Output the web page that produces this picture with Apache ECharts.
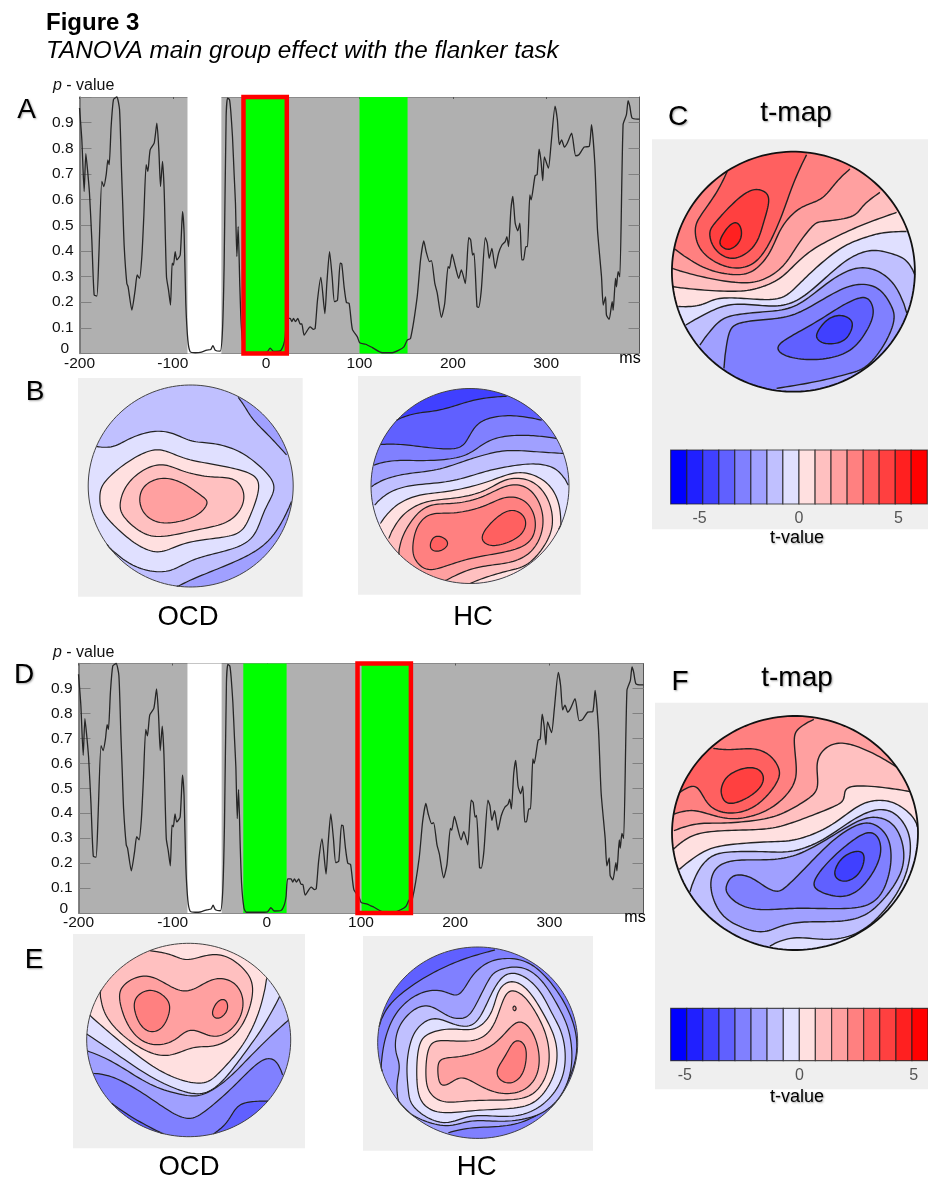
<!DOCTYPE html>
<html><head><meta charset="utf-8">
<style>html,body{margin:0;padding:0;background:#fff}#c{width:928px;height:1178px}</style>
<script src="https://cdn.jsdelivr.net/npm/echarts@6/dist/echarts.min.js"></script>
</head><body><div id="c"></div>
<script>
// ---- TANOVA p-value curve (panel D shows the same curve)
const tMs = [-200,-197.5,-195,-193.2,-191.4,-189.3,-186.8,-184.3,-181.4,-179.3,-176.1,-173.9,-171.4,-169.6,-168.2,-166.1,-163.6,-160,-157.1,-155,-153.6,-152.1,-149.3,-147.9,-143.9,-140.4,-138.2,-135.7,-133.2,-131.1,-128.6,-126.8,-124.3,-120,-117.1,-115,-113.2,-111.1,-109.3,-106.8,-104.6,-102.5,-100.7,-99.3,-97.5,-95.7,-92.1,-89.6,-87.9,-86.1,-83.9,-81.4,-76,-70.7,-63.6,-59.3,-57.1,-54.6,-49.3,-46.8,-45,-42.9,-41.4,-39.3,-37.9,-36.1,-34.3,-32.9,-31.4,-30,-28.3,-26.8,-24.3,-21.8,-10,0.7,4.3,7.9,15,18.6,20.4,22.1,25.7,27.5,29.3,31.4,33.9,36.4,38.2,40.7,47.1,50.7,52.5,55,58.6,62.9,65,67.9,70.7,73.2,76.4,79.3,81,83.5,86,88.9,92.4,97.7,100.2,106.6,113.8,124.4,135.1,142.2,147.6,151.1,154.7,161.8,165.4,168.9,171.4,175,177.1,180.7,183.2,187.8,191.3,194.9,196.3,199.2,202.7,206.3,209.1,213.4,217,219.1,221.2,222.7,225.9,227.6,230.5,234.8,236.9,239,241.9,245.4,249,252.6,256.1,257.9,259.7,262.2,264.3,266.8,269.6,271.8,273.9,275.7,278.2,280,282.5,283.9,288.1,290.3,292.4,294.5,296.3,298.1,302.4,305.2,309.5,312,314.1,316.6,319.5,322.3,327.3,331.6,335.1,340.8,346.1,348.6,352.2,355,359.3,361.1,363.6,364.6,367.5,370.7,371.8,374.3,375.3,377.1,378.9,382.4,386,387.8,389.6,392,397.8,400];
const pValue = [.957,.833,.632,.779,.716,.625,.443,.228,.224,.378,.671,.651,.697,.755,.736,.885,.99,1,.951,.716,.573,.417,.273,.26,.169,.247,.306,.293,.378,.534,.736,.71,.794,.82,.898,.794,.651,.749,.638,.299,.247,.189,.352,.345,.397,.365,.384,.553,.469,.195,.052,.007,.003,.004,.013,.016,.031,.013,.009,.091,.352,.924,.996,.99,.944,.846,.697,.586,.378,.495,.273,.117,.02,.003,.003,.005,.021,.008,.01,.033,.065,.137,.137,.124,.137,.124,.137,.115,.115,.072,.104,.094,.098,.208,.297,.156,.273,.397,.299,.202,.208,.352,.349,.26,.199,.195,.094,.065,.042,.036,.023,.003,.003,.013,.026,.052,.059,.221,.365,.439,.397,.358,.362,.273,.237,.141,.195,.339,.332,.387,.339,.293,.326,.273,.452,.443,.384,.391,.182,.18,.247,.452,.43,.371,.41,.332,.391,.423,.436,.456,.417,.56,.612,.508,.478,.508,.365,.365,.417,.417,.618,.599,.693,.697,.797,.749,.674,.766,.723,.814,.964,.911,.814,.833,.805,.818,.859,.771,.775,.805,.807,.892,.736,.482,.299,.189,.221,.15,.133,.202,.169,.293,.26,.319,.299,.892,.931,.986,.964,.918,.914,.914];

const xTicksMs = [-200,-100,0,100,200,300];
const whiteWindow = [-84.3,-48];
const greenWindowsA = [[-24.3,22.1],[100,151.5]];
const greenWindowsD = [[-25,21],[100.6,151.9]];
const redBoxA = [-24.3,22.1];
const redBoxD = [96.3,153];

// ---- colour scale of the t-maps: level -8..-1, 1..8
const levelColors = ['#0000ff','#2020ff','#4040ff','#6060ff','#8080ff','#a0a0ff','#c0c0ff','#e0e0ff','#ffe0e0','#ffc0c0','#ffa0a0','#ff8080','#ff6060','#ff4040','#ff2020','#ff0000'];
const barEdgesC = [-6.45,-5.64,-4.84,-4.03,-3.23,-2.42,-1.61,-.81,0,.81,1.61,2.42,3.23,4.03,4.84,5.64,6.45];
const barEdgesF = [-5.62,-4.92,-4.22,-3.51,-2.81,-2.11,-1.41,-.7,0,.7,1.41,2.11,2.81,3.51,4.22,4.92,5.62];
const barTicks = [-5,0,5];

// ---- contour lines of each scalp map, in scalp units of that map's hidden axes.
// open: [level, line] – line ends on the scalp rim, the band lies on the right of the walking direction
// closed: [level, loop]
const mapCRange = [66,795,186,905], mapCBase = 4;
const mapCOpen = [
 [5,[470,195,430,280,395,380,340,495,280,535,210,525,150,480,135,420,150,380,200,310,232,245]],
 [3,[75,478,160,535,250,555,310,545,360,490,390,420,430,370,470,345,520,325,560,275,600,238]],
 [2,[65,535,150,560,270,580,340,570,400,530,440,470,490,405,520,395,610,382,640,345,690,308]],
 [1,[65,590,150,600,270,605,340,590,400,560,470,490,560,440,650,400,740,368]],
 [-1,[85,650,150,648,200,625,280,625,380,630,430,600,480,550,570,475,640,445,700,428,770,425]],
 [-2,[108,705,170,670,250,640,360,650,440,635,520,570,590,510,660,480,720,490,770,510,795,555]],
 [-3,[150,765,200,700,250,675,350,665,440,650,530,580,610,535,680,540,740,590,771,670]],
 [-4,[222,835,235,730,265,700,330,690,420,680,500,640,600,585,680,590,720,640,735,690,700,770,650,830,600,850,500,875,380,895]]
];
const mapCClosed = [
 [6,[240,350,300,300,345,305,358,335,340,400,315,470,250,510,195,480,178,430,195,400]],
 [7,[210,450,235,410,260,397,275,420,270,455,240,480,215,470]],
 [-5,[380,770,430,735,510,690,580,645,640,620,665,640,670,680,640,740,590,790,500,810,410,800]],
 [-6,[500,730,530,690,570,675,605,690,605,720,580,755,530,762,505,750]]
];

const mapFRange = [66,805,168,870], mapFBase = 4;
const mapFOpen = [
 [3,[72,462,120,450,170,460,240,478,320,465,385,430,432,375,440,320,432,240,445,205,492,178]],
 [5,[190,265,240,270,310,265,360,285,390,330,380,370,340,420,290,452,230,460,180,440,155,400,130,375,85,400]],
 [2,[72,512,140,490,220,490,330,480,400,460,470,420,505,385,500,320,515,275,560,248,620,258,690,290,742,322]],
 [1,[68,570,110,535,170,515,280,510,370,505,450,480,540,445,585,420,590,378,700,382,782,395]],
 [-1,[88,628,150,580,220,555,360,545,440,540,540,500,620,440,680,420,740,430,790,470,803,500]],
 [-2,[120,695,140,640,180,590,240,575,350,575,430,575,520,540,600,485,670,450,730,455,775,510,782,590,745,700,640,815,530,840,430,830,360,858]]
];
const mapFClosed = [
 [6,[215,380,235,345,290,322,330,330,342,360,320,395,270,425,230,430,215,405]],
 [-3,[180,680,200,620,260,600,340,600,430,590,520,545,610,490,670,470,730,490,762,560,755,640,700,720,640,770,560,785,470,785,400,795,340,818,270,800,210,760]],
 [-4,[228,680,250,645,300,650,345,680,380,695,410,680,470,620,550,540,620,495,670,490,715,530,725,600,710,670,680,720,620,745,500,745,420,745,330,750,270,735,235,705]],
 [-5,[490,665,540,600,610,540,660,515,690,540,690,600,640,680,580,712,510,695]],
 [-6,[555,630,580,590,625,572,645,590,630,640,590,665,560,655]]
];

const mapBOcdRange = [55,670,45,652], mapBOcdBase = -2;
const mapBOcdOpen = [
 [-3,[650,255,600,200,550,150,525,110,505,82]],
 [-3,[320,652,375,625,450,595,540,555,600,510,640,450,665,395]],
 [-1,[80,230,130,232,180,205,250,183,310,190,365,215,430,220,500,240,560,280,615,340,600,390,580,430,555,495,510,530,440,550,375,568,330,590,285,607,220,600,160,570,110,525]]
];
const mapBOcdClosed = [
 [1,[90,380,100,340,160,285,230,245,280,240,340,265,410,280,490,295,560,320,565,370,540,440,510,490,440,505,340,520,270,550,200,525,130,465,95,420]],
 [2,[150,400,170,345,220,300,280,282,340,305,420,322,490,325,522,365,515,415,470,460,380,480,270,503,210,485,160,440]],
 [3,[208,390,225,345,280,323,340,340,390,375,415,398,385,435,330,455,270,460,225,435]]
];

const mapBHcRange = [62,657,55,640], mapBHcBase = -6;
const mapBHcOpen = [
 [-5,[138,150,190,130,260,122,320,105,390,85,470,78]],
 [-4,[90,223,150,222,230,232,310,237,345,220,370,175,410,145,490,135,575,150]],
 [-3,[70,285,130,270,230,272,330,262,380,235,430,205,500,195,570,198,620,205]],
 [-2,[63,350,100,328,170,310,260,300,350,270,400,255,470,240,560,245,640,250]],
 [-1,[73,405,110,370,180,345,300,335,400,305,470,290,550,280,620,295,655,345]],
 [1,[90,460,130,410,200,375,290,365,400,340,480,310,540,310,600,345,630,410,632,480]],
 [2,[115,505,150,440,220,395,310,385,400,365,470,325,540,330,585,370,607,430,600,500,540,580,480,600,410,620,360,640]],
 [3,[145,555,155,500,200,430,250,402,320,400,400,380,470,345,530,350,570,400,580,470,550,540,490,575,420,585,350,600,285,632]]
];
const mapBHcClosed = [
 [4,[187,530,200,470,240,430,310,430,400,410,470,378,530,395,557,450,545,510,490,540,410,555,340,570,280,590,230,600,195,570]],
 [5,[395,495,430,450,480,418,520,435,527,470,500,505,440,527,405,520]],
 [5,[240,520,255,497,285,505,293,525,270,543,245,540]]
];

const mapEOcdRange = [50,662,40,620], mapEOcdBase = 1;
const mapEOcdOpen = [
 [2,[240,62,300,72,350,92,410,75,470,78,530,125,550,180,530,260,490,320,430,350,370,350,300,378,230,365,150,310,100,245,90,180]],
 [-1,[58,255,130,318,240,405,330,450,405,460,450,425,520,345,570,240,590,145]],
 [-2,[50,312,130,365,240,440,340,485,410,490,470,440,530,360,580,290,630,198]],
 [-3,[50,362,130,395,240,465,340,495,400,495,470,450,530,390,600,320,658,268]],
 [-4,[70,430,130,440,220,490,300,545,360,568,410,540,480,480,550,410,590,385,620,395,638,435]],
 [-5,[430,612,470,580,500,530,540,515,595,513]],
 [-5,[125,520,190,565,280,612]]
];
const mapEOcdClosed = [
 [3,[147,210,160,165,210,138,260,145,320,180,370,180,430,145,490,155,520,205,510,265,470,310,420,320,360,295,310,335,240,345,180,300]],
 [4,[190,225,210,190,250,180,290,205,300,240,280,290,245,307,210,285]],
 [4,[428,240,445,212,468,210,473,240,450,265,430,260]]
];

const mapEHcRange = [68,668,51,625], mapEHcBase = -5;
const mapEHcOpen = [
 [-4,[72,290,100,225,180,160,260,115,340,82,420,60]],
 [-3,[78,425,85,345,120,250,190,190,260,180,310,200,345,145,385,105,440,85,520,95,590,160,640,240,665,320,660,400,620,490,560,548,470,587,350,592,280,608]]
];
const mapEHcClosed = [
 [-2,[130,515,125,460,135,405,120,360,130,290,180,235,230,228,280,260,330,265,360,230,400,150,430,120,500,110,560,150,610,230,645,310,650,420,610,510,540,560,440,575,350,570,280,590,200,570,150,540]],
 [-1,[160,480,155,410,165,340,190,290,240,262,300,285,360,285,400,210,440,140,490,130,550,175,590,250,625,320,630,420,590,500,520,550,440,560,350,555,280,580,220,565,170,525]],
 [1,[185,450,190,350,220,310,290,295,360,300,410,250,430,180,470,152,520,180,570,260,605,340,600,430,550,510,480,535,360,540,260,550,200,520]],
 [2,[212,440,220,350,260,330,350,335,410,300,440,220,465,180,510,200,555,270,580,340,580,420,540,490,470,510,360,510,270,518,225,490]],
 [3,[248,415,260,385,320,380,400,355,450,310,490,272,530,300,553,370,545,440,500,485,430,490,370,465,320,440,285,460,255,465]],
 [4,[425,420,450,380,475,335,500,335,515,365,505,430,470,460,435,450]],
 [3,[473,235,478,227,484,235,479,243]]
];

// ---- layout
const FONT = 'Liberation Sans';
const levelColor = l => levelColors[l < 0 ? 8 + l : 7 + l];
const grid = [], xAxis = [], yAxis = [], series = [];
function addGrid(g, xa, ya) {
  grid.push(g); const gi = grid.length - 1;
  xa.forEach(a => { a.gridIndex = gi; xAxis.push(a); });
  ya.forEach(a => { a.gridIndex = gi; yAxis.push(a); });
  return [xAxis.length - xa.length, yAxis.length - ya.length];
}

function pvaluePanel(box, greens, redBox) {
  const tickStyle = {color: '#808080', width: 1};
  const [xi, yi] = addGrid(
    {left: box.l, top: box.t, width: box.w, height: box.h, show: true, backgroundColor: '#b0b0b0', borderWidth: 0},
    [{type: 'value', min: -200, max: 400, interval: 100, position: 'bottom',
      axisLine: {show: true, onZero: false, lineStyle: {color: '#8a8a8a', width: 1}}, axisTick: {show: false}, splitLine: {show: false},
      axisLabel: {color: '#111', fontFamily: FONT, fontSize: 15.5, margin: 2, customValues: xTicksMs}},
     {type: 'value', min: -200, max: 400, interval: 100, position: 'top',
      axisLine: {show: true, onZero: false, lineStyle: {color: '#8a8a8a', width: 1}}, axisTick: {show: true, inside: true, length: 2, lineStyle: {color: '#555'}},
      axisLabel: {show: false}, splitLine: {show: false}}],
    [{type: 'value', min: 0, max: 1, interval: .1, position: 'left',
      axisLine: {show: true, onZero: false, lineStyle: {color: '#666', width: 1.5}},
      axisTick: {show: true, inside: true, length: 12, lineStyle: tickStyle}, splitLine: {show: false},
      axisLabel: {color: '#111', fontFamily: FONT, fontSize: 15.5, margin: 6, lineHeight: 9, verticalAlignMinLabel: 'bottom',
        formatter: v => v >= 1 ? '' : v === 0 ? '0 ' : v.toFixed(1)}},
     {type: 'value', min: 0, max: 1, interval: .1, position: 'right',
      axisLine: {show: true, onZero: false, lineStyle: {color: '#555', width: 1}},
      axisTick: {show: true, inside: true, length: 11, lineStyle: tickStyle}, axisLabel: {show: false}, splitLine: {show: false}}]
  );
  const windows = [whiteWindow.concat('#ffffff')].concat(greens.map(g => g.concat('#00ff00')));
  series.push({type: 'custom', xAxisIndex: xi, yAxisIndex: yi, z: 2, silent: true, clip: false, animation: false,
    data: windows.map(w => [w[0], w[1]]),
    renderItem: (p, api) => {
      const a = api.coord([api.value(0), 1]), b = api.coord([api.value(1), 0]);
      return {type: 'rect', shape: {x: a[0], y: a[1], width: b[0] - a[0], height: b[1] - a[1]}, style: {fill: windows[p.dataIndex][2]}};
    }});
  series.push({type: 'line', xAxisIndex: xi, yAxisIndex: yi, z: 3, silent: true, showSymbol: false, animation: false, clip: false, smooth: .2,
    data: tMs.map((t, i) => [t, pValue[i]]), lineStyle: {color: '#262626', width: 1.3}});
  series.push({type: 'custom', xAxisIndex: xi, yAxisIndex: yi, z: 4, silent: true, clip: false, animation: false,
    data: [redBox],
    renderItem: (p, api) => {
      const a = api.coord([api.value(0), 1]), b = api.coord([api.value(1), 0]);
      return {type: 'rect', shape: {x: a[0], y: a[1], width: b[0] - a[0], height: b[1] - a[1]},
        style: {fill: 'none', stroke: '#ff0000', lineWidth: 4.5}};
    }});
}

// smooth a contour line (Catmull-Rom, then a short running mean) and keep it on the scalp
function buildPolys(range, base, open, closed) {
  const cx = (range[0] + range[1]) / 2, rx = (range[1] - range[0]) / 2, cy = (range[2] + range[3]) / 2, ry = (range[3] - range[2]) / 2;
  const pairs = f => { const o = []; for (let i = 0; i < f.length; i += 2) o.push([f[i], f[i + 1]]); return o; };
  const clampRim = p => { const u = (p[0] - cx) / rx, v = (p[1] - cy) / ry, r = Math.hypot(u, v); return r > 1 ? [cx + u / r * rx, cy + v / r * ry] : p; };
  const ang = p => Math.atan2((p[1] - cy) / ry, (p[0] - cx) / rx);
  const spline = (P, loop) => {
    const n = P.length, out = [], at = i => loop ? P[(i + n) % n] : P[Math.max(0, Math.min(n - 1, i))];
    for (let i = 0; i < (loop ? n : n - 1); i++) {
      const a = at(i - 1), b = at(i), c = at(i + 1), d = at(i + 2);
      for (let k = 0; k < 10; k++) {
        const t = k / 10, t2 = t * t, t3 = t2 * t;
        out.push([0, 1].map(j => .5 * (2 * b[j] + (c[j] - a[j]) * t + (2 * a[j] - 5 * b[j] + 4 * c[j] - d[j]) * t2 + (3 * b[j] - a[j] - 3 * c[j] + d[j]) * t3)));
      }
    }
    if (!loop) out.push(P[n - 1]);
    const m = out.length, W = 5;
    const mean = out.map((q, i) => {
      if (!loop && (i < W || i >= m - W)) return q;
      let x = 0, y = 0;
      for (let k = -W; k <= W; k++) { const r = out[(i + k + m) % m]; x += r[0]; y += r[1]; }
      return [x / (2 * W + 1), y / (2 * W + 1)];
    });
    return mean.map(clampRim);
  };
  const arc = (a0, a1) => { while (a1 <= a0) a1 += Math.PI * 2; const o = [], s = Math.ceil((a1 - a0) / .04);
    for (let i = 0; i <= s; i++) { const a = a0 + (a1 - a0) * i / s; o.push([cx + Math.cos(a) * rx, cy + Math.sin(a) * ry]); } return o; };
  const rim = arc(0, Math.PI * 2);
  const polys = [{fill: levelColor(base), pts: rim}];
  open.forEach(([l, f]) => { const line = spline(pairs(f), false);
    polys.push({fill: levelColor(l), pts: line.concat(arc(ang(line[line.length - 1]), ang(line[0]))), edge: line}); });
  closed.forEach(([l, f]) => { const loop = spline(pairs(f), true); polys.push({fill: levelColor(l), pts: loop, edge: loop.concat([loop[0]])}); });
  polys.push({pts: rim, edge: rim, outline: true});
  return polys;
}

function scalpMap(box, range, base, open, closed, lw, rimColor, rimWidth) {
  const [xi, yi] = addGrid({left: box[0], top: box[1], width: box[2], height: box[3]},
    [{type: 'value', min: range[0], max: range[1], show: false, splitLine: {show: false}}],
    [{type: 'value', min: range[2], max: range[3], inverse: true, show: false, splitLine: {show: false}}]);
  const polys = buildPolys(range, base, open, closed);
  series.push({type: 'custom', xAxisIndex: xi, yAxisIndex: yi, z: 2, silent: true, clip: false, animation: false,
    data: polys.map((p, i) => [(range[0] + range[1]) / 2, (range[2] + range[3]) / 2, i]),
    renderItem: (p, api) => {
      const q = polys[p.dataIndex], children = [];
      if (q.fill) children.push({type: 'polygon', shape: {points: q.pts.map(d => api.coord(d))}, style: {fill: q.fill, stroke: null}});
      if (q.edge) children.push({type: 'polyline', shape: {points: q.edge.map(d => api.coord(d))},
        style: {fill: null, stroke: q.outline ? rimColor : '#222', lineWidth: q.outline ? rimWidth : lw}});
      return {type: 'group', children};
    }});
}

function colorBar(box, edges) {
  const lim = edges[edges.length - 1];
  const [xi, yi] = addGrid({left: box[0], top: box[1], width: box[2], height: box[3]},
    [{type: 'value', min: -lim, max: lim, axisLine: {show: false}, axisTick: {show: false}, splitLine: {show: false},
      axisLabel: {color: '#555', fontFamily: FONT, fontSize: 16, margin: 7, customValues: barTicks}}],
    [{type: 'value', min: 0, max: 1, show: false, splitLine: {show: false}}]);
  series.push({type: 'custom', xAxisIndex: xi, yAxisIndex: yi, z: 2, silent: true, clip: false, animation: false,
    data: levelColors.map((c, i) => [edges[i], edges[i + 1]]),
    renderItem: (p, api) => {
      const a = api.coord([api.value(0), 1]), b = api.coord([api.value(1), 0]);
      return {type: 'rect', shape: {x: a[0], y: a[1], width: b[0] - a[0], height: b[1] - a[1]},
        style: {fill: levelColors[p.dataIndex], stroke: 'rgba(30,30,30,.75)', lineWidth: 1.2}};
    }});
}

pvaluePanel({l: 79.5, t: 97, w: 560, h: 256.5}, greenWindowsA, redBoxA);
pvaluePanel({l: 78.5, t: 663.5, w: 565, h: 249.5}, greenWindowsD, redBoxD);

const bbox = (cx, cy, rx, ry) => [cx - rx, cy - ry, 2 * rx, 2 * ry];
scalpMap(bbox(793.4, 271.7, 121.5, 120), mapCRange, mapCBase, mapCOpen, mapCClosed, 1.4, '#111', 1.8);
scalpMap(bbox(795, 833, 123, 117), mapFRange, mapFBase, mapFOpen, mapFClosed, 1.4, '#111', 1.8);
scalpMap(bbox(190.7, 486, 102.5, 101), mapBOcdRange, mapBOcdBase, mapBOcdOpen, mapBOcdClosed, 1.2, '#444', 1);
scalpMap(bbox(470, 486, 99, 97.5), mapBHcRange, mapBHcBase, mapBHcOpen, mapBHcClosed, 1.2, '#444', 1);
scalpMap(bbox(188.7, 1040, 102, 96.7), mapEOcdRange, mapEOcdBase, mapEOcdOpen, mapEOcdClosed, 1.2, '#444', 1);
scalpMap(bbox(477.7, 1042.7, 100, 95.7), mapEHcRange, mapEHcBase, mapEHcOpen, mapEHcClosed, 1.2, '#444', 1);

colorBar([670.7, 450, 256.6, 54], barEdgesC);
colorBar([670.7, 1008.3, 260.6, 52.4], barEdgesF);

const panelBg = (x0, y0, x1, y1) => ({type: 'rect', z: 0, silent: true, shape: {x: x0, y: y0, width: x1 - x0, height: y1 - y0}, style: {fill: '#efefef'}});
const txt = (x, y, text, size, extra) => ({type: 'text', z: 100, silent: true, x, y,
  style: Object.assign({text, fontFamily: FONT, fontSize: size, fill: '#000', textAlign: 'center', textVerticalAlign: 'middle'}, extra || {})});
const soft = {textShadowColor: 'rgba(0,0,0,.35)', textShadowBlur: 2, textShadowOffsetX: 1, textShadowOffsetY: 1};
const pLabel = (x, y) => ({type: 'text', z: 100, silent: true, x, y, style: {
  text: '{i|p} - value', fontFamily: FONT, fontSize: 16, fill: '#111', textAlign: 'left', textVerticalAlign: 'middle',
  rich: {i: {fontStyle: 'italic', fontFamily: FONT, fontSize: 16, fill: '#111'}}}});

const graphic = [
  panelBg(652, 139.3, 928, 529.3), panelBg(655, 702.7, 928, 1089.3),
  panelBg(78, 378, 302.7, 596.7), panelBg(358, 376, 580.7, 594.7),
  panelBg(73, 934, 305, 1148.3), panelBg(363, 936, 593, 1150.7),
  txt(46, 23, 'Figure 3', 24, {fontWeight: 'bold', textAlign: 'left'}),
  txt(46, 51, 'TANOVA main group effect with the flanker task', 24.3, {fontStyle: 'italic', textAlign: 'left'}),
  pLabel(53, 86), pLabel(53, 653),
  txt(630, 359, 'ms', 16), txt(635, 918, 'ms', 16),
  txt(26.5, 110, 'A', 28, soft), txt(35, 392, 'B', 28, soft), txt(678, 117, 'C', 28, soft),
  txt(24, 675, 'D', 28, soft), txt(34, 960, 'E', 28, soft), txt(680, 682, 'F', 28, soft),
  txt(796, 113, 't-map', 28, soft), txt(797, 678, 't-map', 28, soft),
  txt(797, 538, 't-value', 18, soft), txt(797, 1097, 't-value', 18, soft),
  txt(188, 617, 'OCD', 27.5), txt(473, 617, 'HC', 27.5), txt(189, 1167, 'OCD', 27.5), txt(476.7, 1167, 'HC', 27.5)
];

const chart = echarts.init(document.getElementById('c'));
chart.setOption({animation: false, backgroundColor: '#fff', grid, xAxis, yAxis, series, graphic});
</script></body></html>
